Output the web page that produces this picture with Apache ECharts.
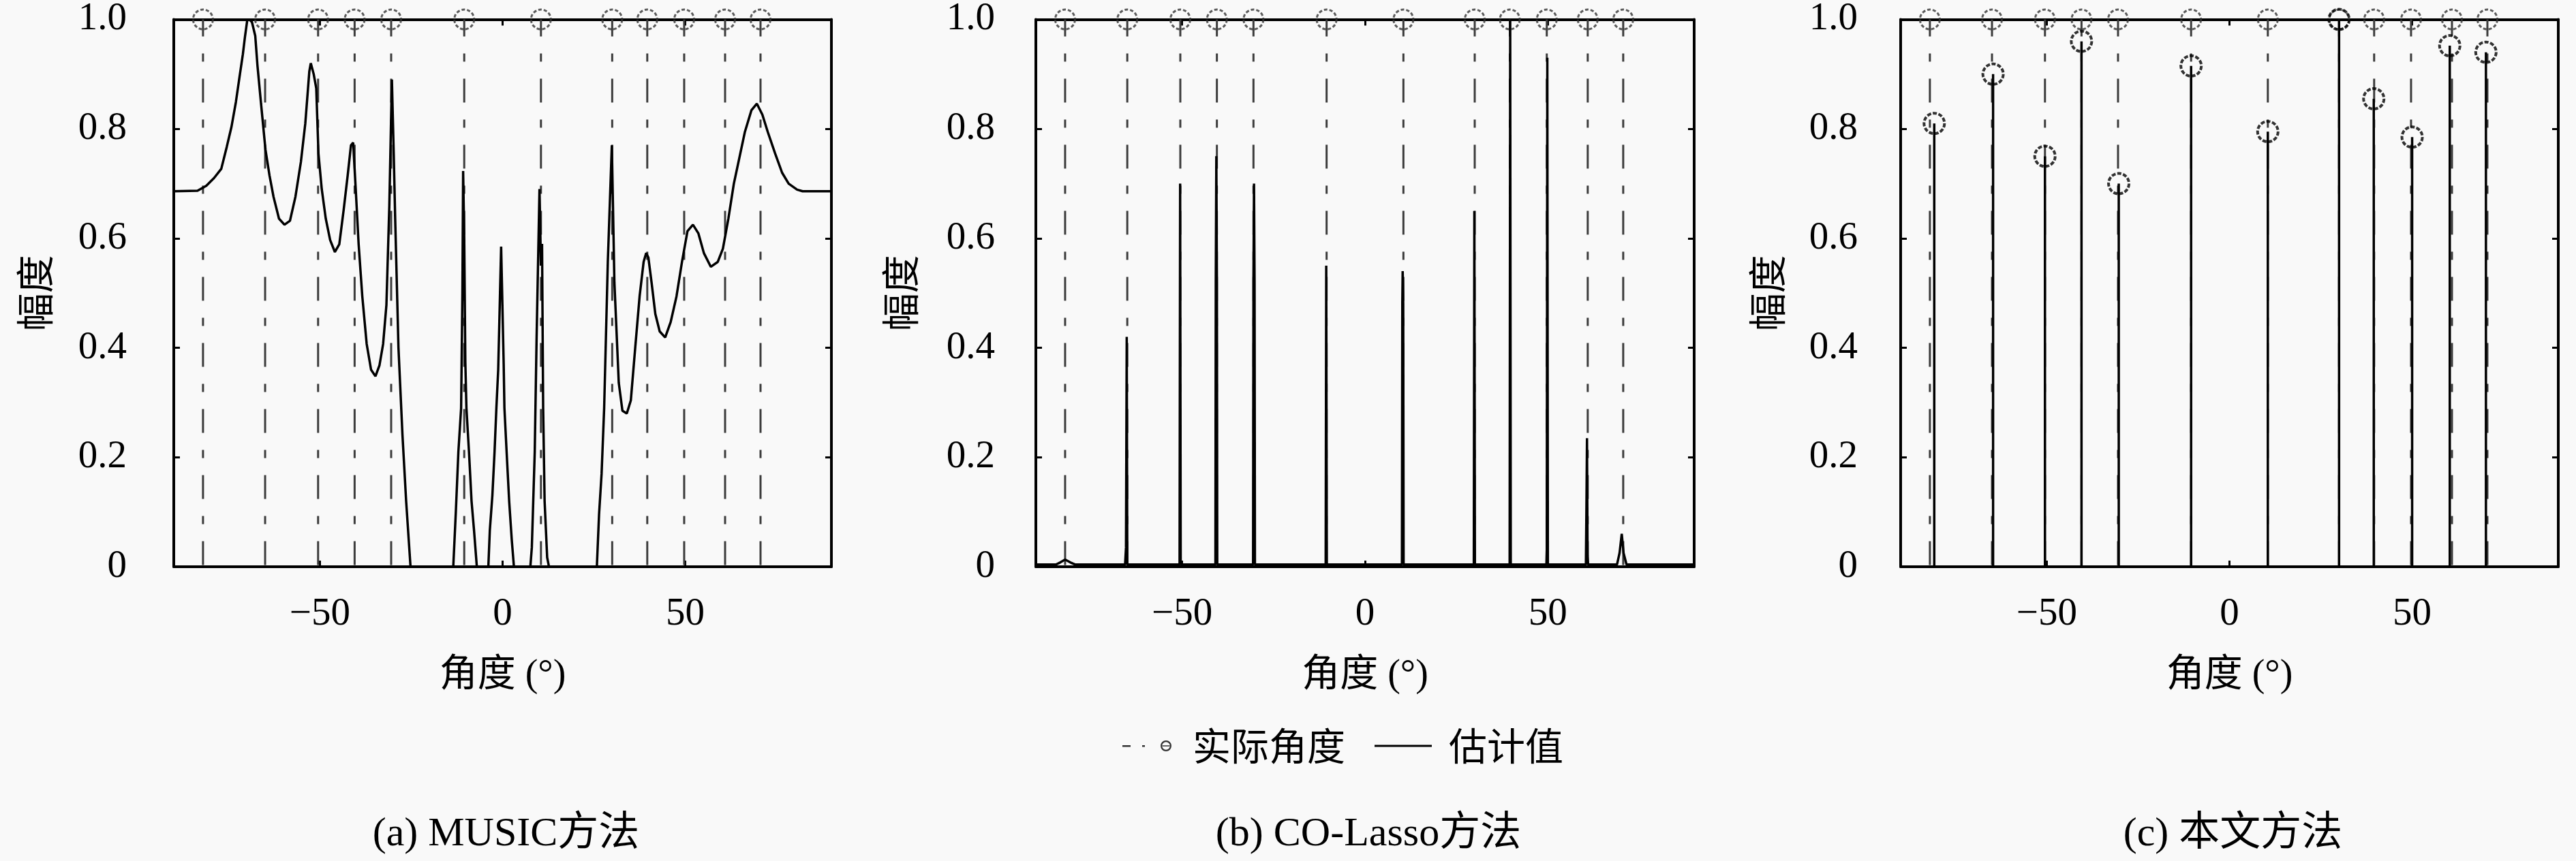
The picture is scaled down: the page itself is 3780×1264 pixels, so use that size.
<!DOCTYPE html>
<html><head><meta charset="utf-8">
<script src="https://cdn.jsdelivr.net/npm/echarts@6/dist/echarts.min.js"></script>
<style>html,body{margin:0;padding:0;background:#f9f9f9}#c{width:3780px;height:1264px}</style>
</head><body><div id="c"></div>
<script>
// ---------------- data ----------------
const subtitles = ['(a) MUSIC方法', '(b) CO-Lasso方法', '(c) 本文方法'];
const xAxisName = '角度 (°)';
const yAxisName = '幅度';
const legendNames = ['实际角度', '估计值'];
const xTickValues = [-50, 0, 50];
const yTickStep = 0.2;

// true directions of arrival (deg)
const trueAngles = [-82, -65, -50.5, -40.5, -30.5, -10.5, 10.5, 30, 39.6, 49.7, 60.9, 70.6];

// (a) MUSIC spectrum  [angle, amplitude]
const musicSpectrum = [
[-90,0.686],[-83.5,0.687],[-81.1,0.696],[-79,0.71],[-77,0.727],[-75.5,0.767],[-74.2,0.804],[-73,0.849],[-72,0.895],[-71.1,0.936],[-70.5,0.969],[-69.9,0.998],[-69.3,1.0],[-68.6,0.995],[-67.7,0.97],[-67.1,0.916],[-66.1,0.845],[-64.9,0.762],[-63.8,0.715],[-62.7,0.676],[-61.2,0.636],[-59.7,0.625],[-58.2,0.632],[-56.7,0.676],[-55.2,0.74],[-54.0,0.81],[-52.9,0.905],[-52.5,0.92],[-51.7,0.90],[-51.0,0.874],[-50.4,0.755],[-49.5,0.69],[-48.4,0.636],[-47.2,0.597],[-45.9,0.575],[-44.7,0.589],[-43.5,0.652],[-42.4,0.715],[-41.5,0.77],[-40.9,0.775],[-40.2,0.69],[-39.4,0.589],[-38.4,0.494],[-37.2,0.407],[-36.0,0.36],[-34.8,0.348],[-33.7,0.368],[-32.7,0.407],[-31.8,0.478],[-31.0,0.66],[-30.3,0.89],[-29.8,0.755],[-29.4,0.636],[-28.5,0.40],[-27.4,0.24],[-26.4,0.12],[-25.2,0],
[-13.5,0],[-12.8,0.10],[-12.1,0.21],[-11.35,0.29],[-11.0,0.50],[-10.8,0.723],[-10.5,0.60],[-10.2,0.375],[-9.9,0.29],[-9.2,0.21],[-8.5,0.12],[-7.8,0.065],[-7.05,0],
[-3.9,0],[-3.5,0.066],[-2.8,0.13],[-2.2,0.21],[-1.7,0.29],[-1.2,0.36],[-0.4,0.585],[0.3,0.37],[0.5,0.29],[1.1,0.21],[1.8,0.12],[2.5,0.05],[3.1,0],
[7.6,0],[8.0,0.035],[8.3,0.10],[8.8,0.21],[9.3,0.415],[10.1,0.69],[10.5,0.55],[10.8,0.59],[11.1,0.29],[11.5,0.12],[12.2,0.017],[12.7,0],
[25.8,0],[26.4,0.095],[27.1,0.17],[27.8,0.29],[28.8,0.557],[29.9,0.77],[30.6,0.52],[31.8,0.336],[32.8,0.285],[34.0,0.28],[35.1,0.304],[36.3,0.40],[37.5,0.494],[38.6,0.557],[39.3,0.573],[39.9,0.565],[40.8,0.518],[41.8,0.462],[43.0,0.43],[44.5,0.419],[46.0,0.447],[47.6,0.494],[49.1,0.557],[50.6,0.613],[52.1,0.625],[53.6,0.609],[55.1,0.573],[57.0,0.548],[58.9,0.557],[60.3,0.581],[61.8,0.636],[63.3,0.70],[64.8,0.747],[66.3,0.794],[68.1,0.834],[69.6,0.846],[71.1,0.826],[72.6,0.794],[74.6,0.755],[76.5,0.72],[78.3,0.70],[80.6,0.689],[82.1,0.686],[90,0.686]
];

// (b) CO-Lasso spectrum  [angle, amplitude]
const lassoSpectrum = [
[-90,0.004],[-84.5,0.004],[-83.3,0.008],[-82,0.013],[-80.6,0.008],[-79.2,0.004],
[-65.6,0.004],[-65.35,0.035],[-65.15,0.42],[-65.0,0.004],
[-50.7,0.004],[-50.55,0.70],[-50.4,0.012],[-50.3,0.004],
[-40.9,0.004],[-40.8,0.52],[-40.65,0.75],[-40.5,0.52],[-40.4,0.004],
[-30.6,0.004],[-30.5,0.52],[-30.35,0.70],[-30.2,0.52],[-30.1,0.004],
[-10.75,0.004],[-10.6,0.55],[-10.45,0.004],
[10.1,0.004],[10.2,0.48],[10.3,0.54],[10.45,0.48],[10.55,0.004],
[29.75,0.004],[29.9,0.65],[30.05,0.004],
[39.55,0.004],[39.7,1.0],[39.85,0.004],
[49.6,0.004],[49.7,0.03],[49.85,0.93],[50.0,0.004],
[60.4,0.004],[60.55,0.11],[60.7,0.235],[60.85,0.02],[61.0,0.004],
[68.9,0.004],[69.6,0.025],[70.2,0.06],[70.7,0.025],[71.5,0.004],
[90,0.004]
];

// (c) proposed method: estimated angles and amplitudes
const oursAngles = [-80.8, -64.7, -50.5, -40.5, -30.3, -10.5, 10.5, 30, 39.5, 50, 60.3, 70.2];
const oursValues = [0.81, 0.90, 0.75, 0.96, 0.70, 0.915, 0.795, 1.0, 0.855, 0.785, 0.952, 0.94];

// ---------------- layout / style ----------------
const SERIF = "'Liberation Serif', 'DejaVu Serif', serif";
const MIX = "'Liberation Serif', 'Noto Sans CJK SC', serif";
const CJK = "'Noto Sans CJK SC', sans-serif";
const grids = [
  {left: 255, top: 25, width: 965, height: 807},
  {left: 1520, top: 25, width: 966, height: 807},
  {left: 2789, top: 25, width: 965, height: 807}
];
const yLabelMargin = [69, 60, 63];
const yNameGap = [176, 171, 168];

const trueLineData = [];
trueAngles.forEach(a => { trueLineData.push([a, 1], [a, 0], [a, '-']); });
const trueMarkData = trueAngles.map(a => [a, 1]);
const stemData = [];
oursAngles.forEach((a, i) => { stemData.push([a, oursValues[i]], [a, 0], [a, '-']); });
const oursMarkData = oursAngles.map((a, i) => [a, oursValues[i]]);

const axisLineStyle = {show: true, onZero: false, lineStyle: {color: '#000', width: 4}};
const tickStyle = {show: true, inside: true, length: 9, lineStyle: {color: '#000', width: 3}};

const xAxes = [], yAxes = [], series = [];
grids.forEach((g, i) => {
  xAxes.push({
    gridIndex: i, type: 'value', min: -90, max: 90, position: 'bottom',
    axisLine: axisLineStyle,
    axisTick: Object.assign({customValues: xTickValues}, tickStyle),
    axisLabel: {customValues: xTickValues, formatter: v => String(v).replace('-', '\u2212'),
      fontSize: 57, fontFamily: SERIF, color: '#000', margin: 42},
    splitLine: {show: false},
    name: xAxisName, nameLocation: 'middle', nameGap: 132,
    nameTextStyle: {fontSize: 56, fontFamily: MIX, color: '#000'}
  });
  xAxes.push({
    gridIndex: i, type: 'value', min: -90, max: 90, position: 'top',
    axisLine: axisLineStyle,
    axisTick: Object.assign({customValues: xTickValues}, tickStyle),
    axisLabel: {show: false}, splitLine: {show: false}
  });
  yAxes.push({
    gridIndex: i, type: 'value', min: 0, max: 1, interval: yTickStep, position: 'left',
    axisLine: axisLineStyle, axisTick: tickStyle,
    axisLabel: {formatter: v => (v === 0 ? '0' : v.toFixed(1)), fontSize: 57, fontFamily: SERIF,
      color: '#000', margin: yLabelMargin[i], padding: [30, 0, 0, 0]},
    splitLine: {show: false},
    name: yAxisName, nameLocation: 'middle', nameGap: yNameGap[i],
    nameTextStyle: {fontSize: 56, fontFamily: CJK, color: '#000'}
  });
  yAxes.push({
    gridIndex: i, type: 'value', min: 0, max: 1, interval: yTickStep, position: 'right',
    axisLine: axisLineStyle, axisTick: tickStyle,
    axisLabel: {show: false}, splitLine: {show: false}
  });
  const xi = 2 * i, yi = 2 * i;
  series.push({
    name: legendNames[0], type: 'line', xAxisIndex: xi, yAxisIndex: yi,
    data: trueLineData, showSymbol: false, symbol: 'none', connectNulls: false,
    lineStyle: {color: '#3c3c3c', width: 3, type: [35, 25, 12, 25], dashOffset: 10},
    z: 2, silent: true
  });
  series.push({
    name: legendNames[0], type: 'scatter', xAxisIndex: xi, yAxisIndex: yi,
    data: trueMarkData, symbol: 'circle', symbolSize: 29, clip: false,
    itemStyle: {color: 'rgba(0,0,0,0)', borderColor: '#333', borderWidth: 3, borderType: [5, 3]},
    z: 5, silent: true
  });
  if (i === 0 || i === 1) {
    series.push({
      name: legendNames[1], type: 'line', xAxisIndex: xi, yAxisIndex: yi,
      data: i === 0 ? musicSpectrum : lassoSpectrum, showSymbol: false, symbol: 'none',
      lineStyle: {color: '#000', width: 3.5}, z: 3, silent: true
    });
  } else {
    series.push({
      name: legendNames[1], type: 'line', xAxisIndex: xi, yAxisIndex: yi,
      data: stemData, showSymbol: false, symbol: 'none', connectNulls: false,
      lineStyle: {color: '#000', width: 3.5}, z: 3, silent: true
    });
    series.push({
      name: legendNames[1], type: 'scatter', xAxisIndex: xi, yAxisIndex: yi,
      data: oursMarkData, symbol: 'circle', symbolSize: 30, clip: false,
      itemStyle: {color: 'rgba(0,0,0,0)', borderColor: '#000', borderWidth: 4, borderType: [6, 2.5]},
      z: 6, silent: true
    });
  }
});

const legendIconTrue = 'path://M0,7H12V9.5H0Z M29,7H33V9.5H29Z M56,8A8,8 0 1,0 72,8A8,8 0 1,0 56,8Z M58.2,8A5.8,5.8 0 1,1 69.8,8A5.8,5.8 0 1,1 58.2,8Z M58,7.2H70V8.8H58Z';
const legendIconEst = 'path://M0,0H84V3H0Z';

const option = {
  backgroundColor: '#f9f9f9',
  animation: false,
  grid: grids,
  xAxis: xAxes,
  yAxis: yAxes,
  series: series,
  title: subtitles.map((t, i) => ({
    text: t, left: grids[i].left + grids[i].width / 2, top: 1190, textAlign: 'center',
    textStyle: {fontSize: 60, fontWeight: 'normal', fontFamily: MIX, color: '#000'}
  })),
  legend: {
    left: 1642, top: 1062, itemWidth: 84, itemHeight: 16, itemGap: 43, selectedMode: false,
    symbolKeepAspect: true,
    data: [
      {name: legendNames[0], icon: legendIconTrue, itemStyle: {color: '#333', borderWidth: 0}},
      {name: legendNames[1], icon: legendIconEst, itemStyle: {color: '#000', borderWidth: 0}}
    ],
    textStyle: {fontSize: 56, fontFamily: CJK, color: '#000', padding: [0, 0, 0, 20]}
  }
};
const chart = echarts.init(document.getElementById('c'), null, {renderer: 'canvas'});
chart.setOption(option);
</script></body></html>
